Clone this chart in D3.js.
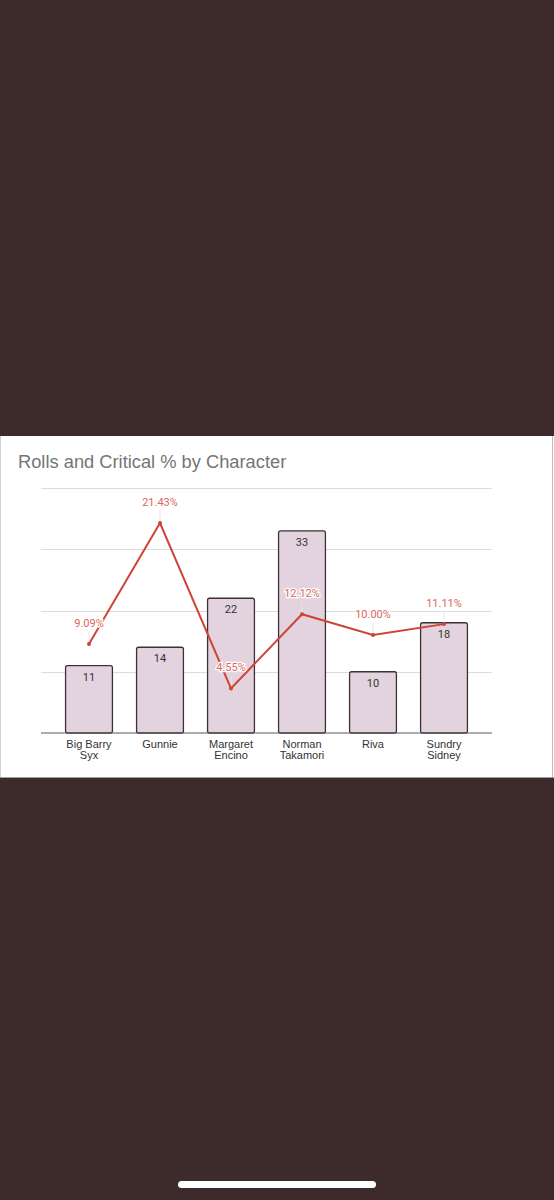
<!DOCTYPE html>
<html>
<head>
<meta charset="utf-8">
<script src="https://cdn.jsdelivr.net/npm/d3@7"></script>
<style>
  html, body { margin: 0; padding: 0; background: #3d2b2c; }
  svg { display: block; }
  text { font-family: Roboto, "Liberation Sans", Arial, sans-serif; }
  .sans { font-family: "Liberation Sans", Arial, sans-serif; }
</style>
</head>
<body>
<svg id="chart" width="554" height="1200"></svg>
<script>
// chart data
const characters = ["Big Barry Syx", "Gunnie", "Margaret Encino", "Norman Takamori", "Riva", "Sundry Sidney"];
const nameLines = [["Big Barry", "Syx"], ["Gunnie"], ["Margaret", "Encino"], ["Norman", "Takamori"], ["Riva"], ["Sundry", "Sidney"]];
const rolls = [11, 14, 22, 33, 10, 18];
const critPct = [9.09, 21.43, 4.55, 12.12, 10.00, 11.11];
const rollTicks = [0, 10, 20, 30, 40];

const svg = d3.select("#chart");

// white card
const panel = { top: 436, bottom: 777 };
svg.append("rect")
    .attr("x", 0).attr("y", panel.top)
    .attr("width", 554).attr("height", panel.bottom - panel.top)
    .attr("fill", "#ffffff");
svg.append("line")
    .attr("x1", 552.5).attr("x2", 552.5)
    .attr("y1", panel.top).attr("y2", panel.bottom)
    .attr("stroke", "#bdbdbd").attr("stroke-width", 1);
svg.append("line")
    .attr("x1", 0.5).attr("x2", 0.5)
    .attr("y1", panel.top).attr("y2", panel.bottom)
    .attr("stroke", "#d0d0d0").attr("stroke-width", 1);
svg.append("line")
    .attr("x1", 0).attr("x2", 554)
    .attr("y1", panel.bottom + 0.5).attr("y2", panel.bottom + 0.5)
    .attr("stroke", "#9e9e9e").attr("stroke-width", 1);

// title
svg.append("text")
    .attr("class", "sans")
    .attr("x", 18).attr("y", 468)
    .attr("fill", "#757575")
    .style("font-size", "18.3px")
    .text("Rolls and Critical % by Character");

// plot area
const plot = { left: 41, right: 492, top: 488, bottom: 733 };

const x = d3.scaleBand()
    .domain(characters)
    .range([plot.left, plot.right])
    .paddingInner(0.34)
    .paddingOuter(0.346);

const y = d3.scaleLinear()
    .domain([0, 40])
    .range([plot.bottom, plot.top]);

const yPct = d3.scaleLinear()
    .domain([0, 25])
    .range([plot.bottom, plot.top]);

// gridlines
svg.append("g")
    .selectAll("line")
    .data(rollTicks.slice(1))
    .join("line")
    .attr("x1", plot.left).attr("x2", plot.right)
    .attr("y1", d => Math.round(y(d)) + 0.5)
    .attr("y2", d => Math.round(y(d)) + 0.5)
    .attr("stroke", "#dcdcdc")
    .attr("stroke-width", 1);

// bars
const bars = svg.append("g");
bars.selectAll("rect")
    .data(rolls)
    .join("rect")
    .attr("x", (d, i) => x(characters[i]))
    .attr("y", d => y(d))
    .attr("width", x.bandwidth())
    .attr("height", d => plot.bottom - y(d))
    .attr("rx", 2)
    .attr("fill", "#e3d3de")
    .attr("stroke", "#3e3035")
    .attr("stroke-width", 1.3);

bars.selectAll("text")
    .data(rolls)
    .join("text")
    .attr("x", (d, i) => x(characters[i]) + x.bandwidth() / 2)
    .attr("y", d => y(d) + 15)
    .attr("text-anchor", "middle")
    .attr("fill", "#333333")
    .style("font-size", "11px")
    .text(d => d);

// baseline
svg.append("line")
    .attr("x1", plot.left).attr("x2", plot.right)
    .attr("y1", plot.bottom).attr("y2", plot.bottom)
    .attr("stroke", "#5a5a5a")
    .attr("stroke-width", 1.2);

// x-axis labels
const xLab = svg.append("g");
nameLines.forEach((lines, i) => {
    const t = xLab.append("text")
        .attr("class", "sans")
        .attr("x", x(characters[i]) + x.bandwidth() / 2)
        .attr("y", 748)
        .attr("text-anchor", "middle")
        .attr("fill", "#333333")
        .style("font-size", "11px");
    lines.forEach((ln, j) => {
        t.append("tspan")
            .attr("x", x(characters[i]) + x.bandwidth() / 2)
            .attr("dy", j === 0 ? 0 : 11)
            .text(ln);
    });
});

// critical % line
const pts = critPct.map((v, i) => [x(characters[i]) + x.bandwidth() / 2, yPct(v)]);

// annotation stems
svg.append("g")
    .selectAll("line")
    .data(pts)
    .join("line")
    .attr("x1", d => d[0]).attr("x2", d => d[0])
    .attr("y1", d => d[1] - 12).attr("y2", d => d[1])
    .attr("stroke", "#e6e6e6")
    .attr("stroke-width", 1);

svg.append("path")
    .datum(pts)
    .attr("d", d3.line())
    .attr("fill", "none")
    .attr("stroke", "#cf4436")
    .attr("stroke-width", 2);

svg.append("g")
    .selectAll("circle")
    .data(pts)
    .join("circle")
    .attr("cx", d => d[0]).attr("cy", d => d[1])
    .attr("r", 2)
    .attr("fill", "#cf4436");

svg.append("g")
    .selectAll("text")
    .data(critPct)
    .join("text")
    .attr("x", (d, i) => pts[i][0])
    .attr("y", (d, i) => pts[i][1] - 17)
    .attr("text-anchor", "middle")
    .attr("fill", "#d9675c")
    .attr("stroke", "#ffffff")
    .attr("stroke-width", 2.5)
    .attr("paint-order", "stroke")
    .style("font-size", "11px")
    .text(d => d.toFixed(2) + "%");

// home indicator
svg.append("rect")
    .attr("x", 178).attr("y", 1181)
    .attr("width", 198).attr("height", 7)
    .attr("rx", 3.5)
    .attr("fill", "#ffffff");
</script>
</body>
</html>
